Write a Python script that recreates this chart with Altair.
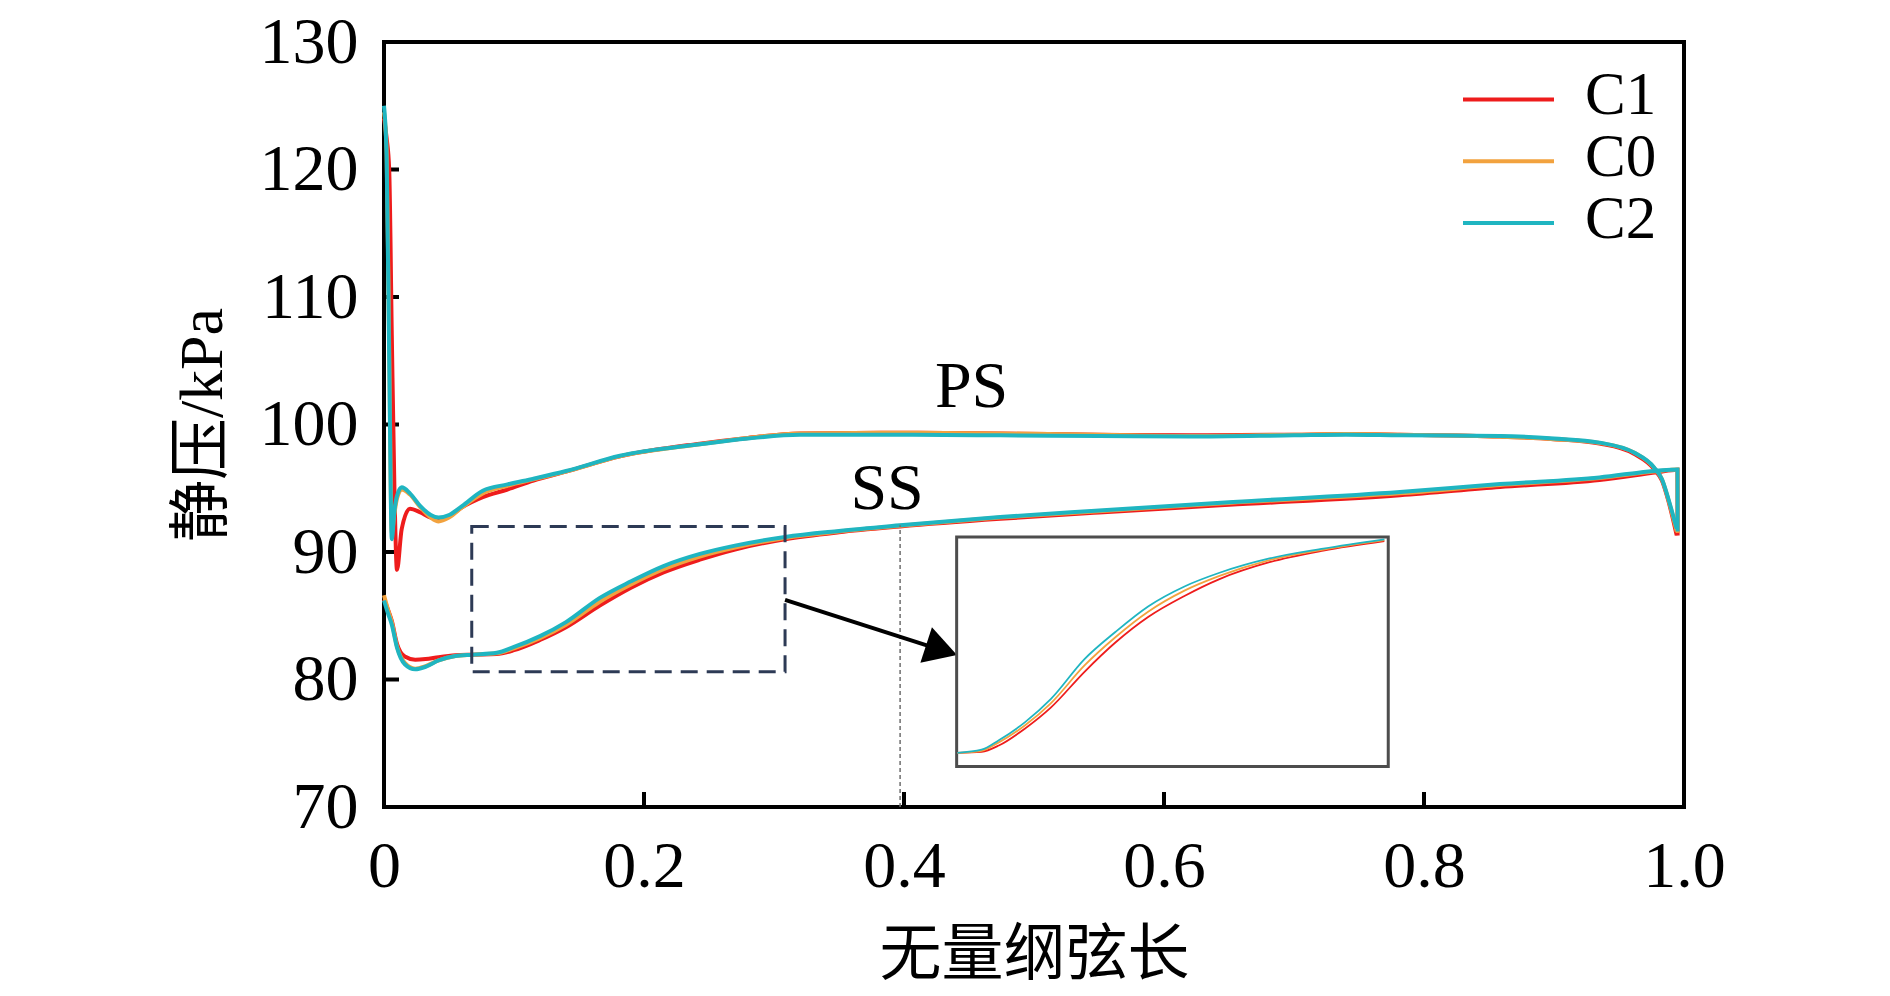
import altair as alt
import pandas as pd

# cases in legend order, with their line colours
CASES = ["C1", "C0", "C2"]
COLORS = ["#ee1c1c", "#f2a23e", "#1fb5c1"]

# pressure side (PS): chord positions and static pressure (kPa) per case
PS_X = [0.0, 0.002, 0.004, 0.006, 0.008, 0.010, 0.0136, 0.020, 0.028, 0.036,
        0.042, 0.050, 0.060, 0.076, 0.095, 0.115, 0.14, 0.1815, 0.243, 0.28,
        0.32, 0.40, 0.474, 0.55, 0.62, 0.70, 0.74, 0.7815, 0.8585, 0.90,
        0.935, 0.9615, 0.977, 0.983, 0.988, 0.9944]
PS_C1 = [124.0, 122.5, 120.0, 107.0, 95.0, 88.6, 91.8, 93.4, 93.1, 92.7,
         92.6, 92.8, 93.5, 94.3, 94.9, 95.6, 96.3, 97.5, 98.5, 98.95,
         99.3, 99.35, 99.3, 99.2, 99.15, 99.2, 99.25, 99.2, 99.05, 98.85,
         98.5, 97.7, 96.5, 95.6, 94.0, 91.3]
PS_C0 = [124.5, 121.5, 106.0, 91.5, 93.0, 94.2, 94.9, 94.5, 93.5, 92.7,
         92.4, 92.7, 93.5, 94.6, 95.2, 95.7, 96.3, 97.5, 98.45, 98.95,
         99.3, 99.35, 99.3, 99.2, 99.1, 99.2, 99.25, 99.2, 99.05, 98.85,
         98.55, 97.8, 96.6, 95.7, 94.1, 91.6]
PS_C2 = [125.0, 121.0, 105.0, 91.0, 93.2, 94.4, 95.07, 94.6, 93.6, 92.9,
         92.7, 92.9, 93.6, 94.8, 95.3, 95.75, 96.35, 97.55, 98.45, 98.9,
         99.2, 99.2, 99.15, 99.1, 99.05, 99.15, 99.2, 99.15, 99.1, 98.9,
         98.58, 97.8, 96.63, 95.72, 94.16, 91.82]

# suction side (SS)
SS_X = [0.0, 0.003, 0.006, 0.010, 0.016, 0.024, 0.032, 0.042, 0.055, 0.068,
        0.0867, 0.10, 0.12, 0.14, 0.166, 0.19, 0.215, 0.243, 0.27, 0.3085,
        0.35, 0.397, 0.474, 0.55, 0.65, 0.7815, 0.8585, 0.935, 0.9792, 0.9950,
        0.9951]
SS_C1 = [86.3, 85.5, 84.6, 82.8, 81.8, 81.55, 81.6, 81.75, 81.9, 81.95,
         82.0, 82.3, 83.1, 84.1, 85.8, 87.2, 88.4, 89.4, 90.2, 91.0,
         91.55, 92.0, 92.6, 93.1, 93.7, 94.45, 95.1, 95.65, 96.25, 96.45,
         91.3]
SS_C0 = [86.6, 85.5, 84.5, 82.6, 81.3, 80.85, 81.05, 81.5, 81.85, 81.95,
         82.05, 82.45, 83.25, 84.3, 86.1, 87.45, 88.65, 89.65, 90.35, 91.1,
         91.6, 92.05, 92.7, 93.2, 93.85, 94.6, 95.25, 95.8, 96.33, 96.47,
         91.5]
SS_C2 = [86.2, 85.2, 84.3, 82.5, 81.2, 80.8, 81.0, 81.5, 81.85, 81.95,
         82.1, 82.55, 83.4, 84.5, 86.4, 87.7, 88.9, 89.85, 90.5, 91.18,
         91.65, 92.09, 92.74, 93.25, 93.9, 94.7, 95.33, 95.85, 96.38, 96.48,
         91.6]

X_TICKS = [0, 0.2, 0.4, 0.6, 0.8, 1.0]
Y_TICKS = [70, 80, 90, 100, 110, 120, 130]

# annotations (data units)
LABEL_TEXT = ["PS", "SS"]
LABEL_X = [0.452, 0.387]
LABEL_Y = [102.95, 94.96]
BOX_X = [0.0675, 0.3085]          # dashed zoom box
BOX_Y = [80.6, 92.0]
INSET_X = [0.4405, 0.7725]        # magnified view
INSET_Y = [73.17, 91.18]
ZOOM_SRC_X = [0.0675, 0.40]       # part of SS shown in the inset
ZOOM_SRC_Y = [81.3, 92.2]
ARROW_X = [0.3085, 0.4289]
ARROW_Y = [86.24, 82.31]
GUIDE_X = [0.397]
GUIDE_Y = [70.0, 92.09]

rows = []
for case, ps, ss in zip(CASES, [PS_C1, PS_C0, PS_C2], [SS_C1, SS_C0, SS_C2]):
    for i, (x, p) in enumerate(zip(PS_X, ps)):
        rows.append({"case": case, "side": "PS", "x": x, "p": p, "idx": i})
    for i, (x, p) in enumerate(zip(SS_X, ss)):
        rows.append({"case": case, "side": "SS", "x": x, "p": p, "idx": i})
df = pd.DataFrame(rows)

W, H = 1300, 765
SERIF = "Liberation Serif, Noto Sans CJK SC"
x_scale = alt.Scale(domain=[0, 1], nice=False, zero=False)
y_scale = alt.Scale(domain=[70, 130], nice=False, zero=False)


def xq(field):
    return alt.X(field, type="quantitative", scale=x_scale, title="无量纲弦长",
                 axis=alt.Axis(values=X_TICKS,
                               labelExpr="datum.value == 0 ? '0' : format(datum.value, '.1f')"))


def yq(field):
    return alt.Y(field, type="quantitative", scale=y_scale, title="静压/kPa",
                 axis=alt.Axis(values=Y_TICKS))


color = alt.Color("case:N", scale=alt.Scale(domain=CASES, range=COLORS), legend=None)

layers = []

# inward ticks
layers.append(alt.Chart(pd.DataFrame({"t": X_TICKS[1:-1]})).mark_rule(
    color="black", strokeWidth=4).encode(x=xq("t"), y=alt.value(H), y2=alt.value(H - 15)))
layers.append(alt.Chart(pd.DataFrame({"t": Y_TICKS[1:-1]})).mark_rule(
    color="black", strokeWidth=4).encode(y=yq("t"), x=alt.value(0), x2=alt.value(15)))

# main curves, one layer per case so C2 sits on top
for case in CASES:
    layers.append(alt.Chart(df).transform_filter(alt.datum.case == case).mark_line(
        strokeWidth=4, interpolate="monotone").encode(
        x=xq("x"), y=yq("p"), color=color, detail="side:N", order="idx:Q"))

# dashed zoom box, guide line and arrow
box = pd.DataFrame({"x": [BOX_X[0]], "x2": [BOX_X[1]], "y": [BOX_Y[0]], "y2": [BOX_Y[1]]})
layers.append(alt.Chart(box).mark_rect(fillOpacity=0, stroke="#2d3a55", strokeWidth=3,
                                        strokeDash=[17, 9]).encode(
    x=xq("x"), x2="x2", y=yq("y"), y2="y2"))
guide = pd.DataFrame({"x": GUIDE_X, "y": [GUIDE_Y[0]], "y2": [GUIDE_Y[1]]})
layers.append(alt.Chart(guide).mark_rule(stroke="#6e6e6e", strokeWidth=1.5,
                                         strokeDash=[4, 3]).encode(
    x=xq("x"), y=yq("y"), y2="y2"))
arrow = pd.DataFrame({"x": ARROW_X, "y": ARROW_Y, "k": [0, 1]})
layers.append(alt.Chart(arrow).mark_line(color="black", strokeWidth=4).encode(
    x=xq("x"), y=yq("y"), order="k:Q"))
layers.append(alt.Chart(arrow.tail(1)).mark_point(
    shape="triangle-right", filled=True, color="black", opacity=1, size=1400, angle=18).encode(
    x=xq("x"), y=yq("y")))

# inset frame and magnified SS curves
inset = pd.DataFrame({"x": [INSET_X[0]], "x2": [INSET_X[1]], "y": [INSET_Y[0]], "y2": [INSET_Y[1]]})
layers.append(alt.Chart(inset).mark_rect(fill="white", stroke="#4d4d4d", strokeWidth=3).encode(
    x=xq("x"), x2="x2", y=yq("y"), y2="y2"))
sx = (INSET_X[1] - INSET_X[0]) / (ZOOM_SRC_X[1] - ZOOM_SRC_X[0])
sy = (INSET_Y[1] - INSET_Y[0]) / (ZOOM_SRC_Y[1] - ZOOM_SRC_Y[0])
for case in CASES:
    layers.append(alt.Chart(df).transform_filter(
        (alt.datum.case == case) & (alt.datum.side == "SS")
        & (alt.datum.x >= ZOOM_SRC_X[0]) & (alt.datum.x <= ZOOM_SRC_X[1])
    ).transform_calculate(
        ix=f"{INSET_X[0]} + (datum.x - {ZOOM_SRC_X[0]}) * {sx}",
        iy=f"{INSET_Y[0]} + (datum.p - {ZOOM_SRC_Y[0]}) * {sy}",
    ).mark_line(strokeWidth=1.8, interpolate="monotone").encode(
        x=xq("ix"), y=yq("iy"), color=color, order="idx:Q"))

# PS / SS labels
labels = pd.DataFrame({"x": LABEL_X, "y": LABEL_Y, "t": LABEL_TEXT})
layers.append(alt.Chart(labels).mark_text(font="Liberation Serif", fontSize=66,
                                          color="black", baseline="middle").encode(
    x=xq("x"), y=yq("y"), text="t:N"))

# legend drawn by hand: rows about 62 px apart in the top-right corner
leg = alt.Chart(pd.DataFrame({"case": CASES, "k": list(range(len(CASES)))})).transform_calculate(
    ly="125.5 - datum.k * 4.85")
layers.append(leg.mark_rule(strokeWidth=4).encode(
    x=alt.value(1079), x2=alt.value(1170), y=yq("ly"), color=color))
layers.append(leg.mark_text(font="Liberation Serif", fontSize=61, color="black",
                            align="left", baseline="middle", dy=-3).encode(
    x=alt.value(1201), y=yq("ly"), text="case:N"))

chart = alt.layer(*layers).properties(
    width=W, height=H,
    autosize=alt.AutoSizeParams(type="none"),
    padding={"left": 376, "top": 34, "right": 190, "bottom": 180},
).configure_view(
    stroke="black", strokeWidth=4
).configure_axis(
    grid=False, domain=False, tickSize=0, labelFont="Liberation Serif", labelFontSize=66,
    labelColor="black", titleFont=SERIF, titleColor="black", titleFontWeight="normal",
    labelFlush=False, labelOverlap=False
).configure_axisX(
    labelPadding=27, titleFontSize=62, titleY=148, titleBaseline="middle"
).configure_axisY(
    labelPadding=26, titleFontSize=62, titleX=-182, titleY=H / 2, titleBaseline="middle",
    titleAlign="center", titleAngle=-90
)

chart.save("out.html", embed_options={"renderer": "svg", "actions": False})
